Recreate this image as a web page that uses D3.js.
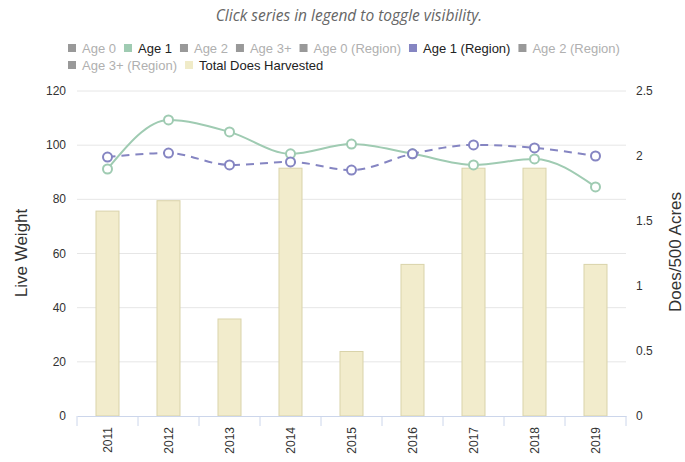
<!DOCTYPE html>
<html>
<head>
<meta charset="utf-8">
<script src="https://cdn.jsdelivr.net/npm/d3@7"></script>
<style>
  body { margin: 0; background: #fff; }
  svg text { font-family: "Liberation Sans", Arial, sans-serif; }
</style>
</head>
<body>
<svg id="chart" width="685" height="462"></svg>
<script>
// values
var years = ["2011", "2012", "2013", "2014", "2015", "2016", "2017", "2018", "2019"];
var age1 = [91.2, 109.3, 104.9, 96.8, 100.4, 96.8, 92.7, 94.9, 84.6];
var age1Region = [95.6, 97.1, 92.7, 93.8, 90.8, 96.8, 100.1, 99.0, 96.0];
var doesHarvested = [1.58, 1.66, 0.75, 1.91, 0.5, 1.17, 1.91, 1.91, 1.17];
var leftTicks = [0, 20, 40, 60, 80, 100, 120];
var rightTicks = [0, 0.5, 1, 1.5, 2, 2.5];

var legendItems = [
  {name: "Age 0", color: "#999", on: false},
  {name: "Age 1", color: "#9fcbb2", on: true},
  {name: "Age 2", color: "#999", on: false},
  {name: "Age 3+", color: "#999", on: false},
  {name: "Age 0 (Region)", color: "#999", on: false},
  {name: "Age 1 (Region)", color: "#8585c2", on: true},
  {name: "Age 2 (Region)", color: "#999", on: false},
  {name: "Age 3+ (Region)", color: "#999", on: false},
  {name: "Total Does Harvested", color: "#f0ebc8", on: true}
];

var svg = d3.select("#chart");
var plotLeft = 77, plotRight = 626, plotTop = 91, plotBottom = 416;

var x = d3.scaleBand().domain(years).range([plotLeft, plotRight]);
var yL = d3.scaleLinear().domain([0, 120]).range([plotBottom, plotTop]);
var yR = d3.scaleLinear().domain([0, 2.5]).range([plotBottom, plotTop]);

// title note
svg.append("text")
  .attr("x", 349).attr("y", 21)
  .attr("text-anchor", "middle")
  .style("font-family", "'Open Sans', sans-serif")
  .style("font-style", "italic")
  .style("font-size", "15.5px")
  .attr("fill", "#666")
  .text("Click series in legend to toggle visibility.");

// legend, two rows
var lx = 68, ly = 53, rowMax = 645;
legendItems.forEach(function(d, i) {
  var g = svg.append("g");
  g.append("rect").attr("x", 0).attr("y", -9).attr("width", 8).attr("height", 8).attr("fill", d.color);
  var t = g.append("text").attr("x", 14).attr("y", 0)
    .style("font-size", "13px")
    .attr("fill", d.on ? "#222" : "#b0b0b0")
    .text(d.name);
  var w = 14 + t.node().getComputedTextLength();
  if (lx + w > rowMax) { lx = 68; ly += 17; }
  g.attr("transform", "translate(" + lx + "," + ly + ")");
  lx += w + 8;
});

// grid
svg.append("g").selectAll("line")
  .data(leftTicks.slice(1))
  .join("line")
  .attr("x1", plotLeft).attr("x2", plotRight)
  .attr("y1", d => yL(d)).attr("y2", d => yL(d))
  .attr("stroke", "#e6e6e6");

// bars
var bw = 24;
svg.append("g").selectAll("rect")
  .data(doesHarvested)
  .join("rect")
  .attr("x", (d, i) => x(years[i]) + x.bandwidth() / 2 - bw / 2 + 0.5)
  .attr("y", d => yR(d) + 0.5)
  .attr("width", bw - 1)
  .attr("height", d => plotBottom - yR(d) - 0.5)
  .attr("fill", "#f2eccc")
  .attr("stroke", "#d9d3aa")
  .attr("stroke-width", 1);

// x axis
var xAxis = d3.axisBottom(x).tickSize(0).tickFormat("");
var xg = svg.append("g").attr("transform", "translate(0," + plotBottom + ")").call(xAxis);
xg.select(".domain").attr("stroke", "#ccd6eb");
svg.append("g").selectAll("line")
  .data(years.concat(["end"]))
  .join("line")
  .attr("x1", (d, i) => plotLeft + i * x.bandwidth()).attr("x2", (d, i) => plotLeft + i * x.bandwidth())
  .attr("y1", plotBottom).attr("y2", plotBottom + 10)
  .attr("stroke", "#ccd6eb");
svg.append("g").selectAll("text")
  .data(years)
  .join("text")
  .attr("transform", d => "translate(" + (x(d) + x.bandwidth() / 2 + 4) + "," + (plotBottom + 11) + ") rotate(-90)")
  .attr("text-anchor", "end")
  .style("font-size", "12px")
  .attr("fill", "#333")
  .text(d => d);

// y axes labels
svg.append("g").selectAll("text")
  .data(leftTicks)
  .join("text")
  .attr("x", 66).attr("y", d => yL(d) + 4)
  .attr("text-anchor", "end")
  .style("font-size", "12px")
  .attr("fill", "#333")
  .text(d => d);
svg.append("g").selectAll("text")
  .data(rightTicks)
  .join("text")
  .attr("x", 636).attr("y", d => yR(d) + 4)
  .attr("text-anchor", "start")
  .style("font-size", "12px")
  .attr("fill", "#333")
  .text(d => d);

svg.append("text")
  .attr("transform", "translate(27,253) rotate(-90)")
  .attr("text-anchor", "middle")
  .style("font-size", "17px")
  .attr("fill", "#333")
  .text("Live Weight");
svg.append("text")
  .attr("transform", "translate(681,252) rotate(-90)")
  .attr("text-anchor", "middle")
  .style("font-size", "17px")
  .attr("fill", "#333")
  .text("Does/500 Acres");

// lines
var line = d3.line()
  .x((d, i) => x(years[i]) + x.bandwidth() / 2)
  .y(d => yL(d))
  .curve(d3.curveMonotoneX);

function drawSeries(vals, color, dash) {
  svg.append("path")
    .attr("d", line(vals))
    .attr("fill", "none")
    .attr("stroke", color)
    .attr("stroke-width", 2)
    .attr("stroke-dasharray", dash);
  svg.append("g").selectAll("circle")
    .data(vals)
    .join("circle")
    .attr("cx", (d, i) => x(years[i]) + x.bandwidth() / 2)
    .attr("cy", d => yL(d))
    .attr("r", 4.5)
    .attr("fill", "#fff")
    .attr("stroke", color)
    .attr("stroke-width", 2);
}
drawSeries(age1, "#9fcbb2", null);
drawSeries(age1Region, "#8585c2", "8,6");
</script>
</body>
</html>
